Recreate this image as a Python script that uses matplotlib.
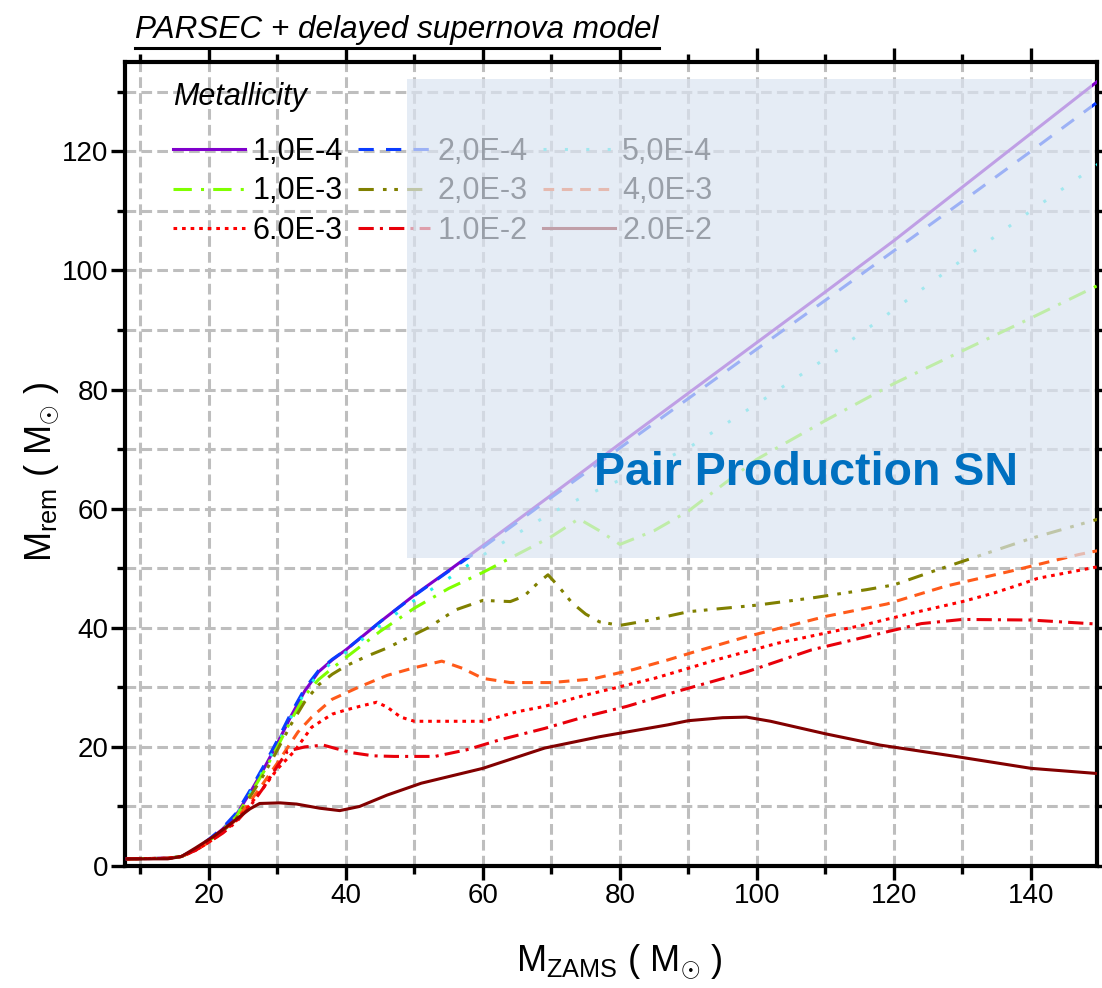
import matplotlib
matplotlib.use("Agg")
import matplotlib.pyplot as plt
from matplotlib.patches import Rectangle
from matplotlib.lines import Line2D
from matplotlib.ticker import MultipleLocator

plt.rcParams['font.family'] = ['Liberation Sans', 'DejaVu Sans']
plt.rcParams['mathtext.fontset'] = 'custom'
plt.rcParams['mathtext.rm'] = 'Liberation Sans'
plt.rcParams['mathtext.it'] = 'Liberation Sans:italic'

# ---- data (M_ZAMS -> M_rem) for each metallicity ----
labels = ["1,0E-4", "2,0E-4", "5,0E-4",
          "1,0E-3", "2,0E-3", "4,0E-3",
          "6.0E-3", "1.0E-2", "2.0E-2"]

x_z1 = [8, 14, 16, 18, 20, 22, 24, 26, 28, 30, 32, 34, 36, 38, 40, 45, 50, 55, 60, 70, 80, 90, 100, 110, 120, 130, 140, 150]
y_z1 = [1.2, 1.3, 1.6, 2.7, 4.3, 6.2, 8.6, 12.3, 16.3, 20.6, 25.2, 29.4, 32.6, 34.6, 36.3, 41.0, 45.5, 49.6, 53.8, 62.3, 70.9, 79.4, 87.9, 96.4, 105.0, 114.0, 123.0, 132.0]

x_z2 = [8, 14, 16, 18, 20, 22, 24, 26, 28, 30, 32, 34, 36, 38, 40, 45, 50, 55, 60, 70, 80, 90, 100, 110, 120, 130, 140, 150]
y_z2 = [1.2, 1.3, 1.6, 2.8, 4.5, 6.4, 8.9, 12.7, 16.8, 21.1, 25.7, 29.8, 32.8, 34.7, 36.3, 41.0, 45.4, 49.5, 53.5, 61.9, 70.2, 78.5, 86.8, 95.0, 103.3, 111.6, 120.0, 128.5]

x_z3 = [8, 14, 16, 18, 20, 22, 24, 26, 28, 30, 32, 34, 36, 38, 40, 45, 50, 55, 60, 65, 70, 75, 80, 90, 100, 110, 120, 130, 140, 150]
y_z3 = [1.2, 1.3, 1.6, 2.7, 4.3, 6.1, 8.5, 12.2, 16.2, 20.5, 25.0, 29.2, 32.3, 34.2, 35.9, 40.4, 44.6, 48.3, 52.2, 55.8, 59.3, 62.2, 64.8, 70.2, 77.6, 85.2, 93.4, 101.8, 110.0, 118.0]

x_z4 = [8, 14, 16, 18, 20, 22, 24, 26, 28, 30, 32, 34, 36, 38, 40, 45, 50, 55, 60, 65, 70, 74, 77, 80, 85, 90, 95, 100, 110, 120, 130, 140, 150]
y_z4 = [1.2, 1.3, 1.6, 2.7, 4.2, 6.0, 8.3, 12.0, 15.8, 20.0, 24.5, 28.6, 31.3, 33.2, 35.0, 39.4, 43.3, 46.6, 49.3, 52.3, 55.3, 58.3, 56.3, 54.0, 56.3, 59.6, 64.0, 68.3, 74.8, 81.0, 86.5, 92.0, 97.6]

x_z5 = [8, 14, 16, 18, 20, 22, 24, 26, 28, 30, 32, 34, 36, 38, 40, 43, 46, 49, 52, 56, 60, 64, 66, 68, 69.5, 71, 73, 75, 77, 80, 84, 90, 100, 108, 116, 120, 126, 133, 140, 150]
y_z5 = [1.2, 1.3, 1.6, 2.6, 4.1, 5.8, 8.0, 11.6, 15.3, 19.5, 23.8, 27.6, 30.4, 32.2, 33.6, 35.2, 36.6, 38.3, 40.0, 43.0, 44.6, 44.4, 45.3, 47.5, 48.9, 47.0, 44.2, 42.3, 41.0, 40.4, 41.2, 42.7, 43.8, 45.0, 46.4, 47.2, 49.6, 52.3, 55.0, 58.3]

x_z6 = [8, 14, 16, 18, 20, 22, 24, 26, 28, 30, 33, 35, 38, 42, 46, 50, 54, 57, 60, 64, 70, 76, 82, 87, 91, 98.5, 110, 119, 127.6, 137.4, 147, 150]
y_z6 = [1.2, 1.3, 1.6, 2.6, 4.0, 5.7, 7.8, 10.8, 14.0, 17.3, 22.5, 25.0, 28.0, 30.1, 32.0, 33.3, 34.4, 33.2, 31.5, 30.8, 30.8, 31.4, 33.0, 34.6, 36.0, 38.5, 41.9, 44.0, 47.0, 49.6, 52.3, 53.0]

x_z7 = [8, 14, 16, 18, 20, 22, 24, 26, 28, 30, 32.5, 35, 38, 40, 42, 44.5, 46, 48, 50, 55, 60, 62.5, 65, 69, 75, 80, 85, 90, 94, 103, 115.7, 122.8, 130, 134.5, 138, 141, 150]
y_z7 = [1.2, 1.3, 1.6, 2.6, 4.0, 5.6, 7.6, 10.3, 13.2, 16.3, 19.3, 23.3, 25.5, 26.2, 26.8, 27.5, 26.7, 25.0, 24.3, 24.3, 24.3, 25.1, 25.9, 26.8, 28.7, 30.1, 31.5, 33.2, 34.6, 37.4, 40.5, 42.5, 44.4, 45.8, 47.1, 48.3, 50.3]

x_z8 = [8, 14, 16, 18, 20, 22, 24, 26, 28, 30, 31.5, 34, 36.7, 38.6, 41, 44, 47, 53, 57.6, 62.5, 69, 75, 81, 88, 98.5, 108, 116, 124, 130, 140, 150]
y_z8 = [1.2, 1.3, 1.6, 2.6, 4.0, 5.5, 7.4, 10.0, 13.2, 16.8, 19.3, 20.0, 20.3, 19.7, 19.0, 18.5, 18.4, 18.4, 19.5, 21.2, 23.1, 25.1, 26.8, 29.2, 32.6, 36.3, 38.5, 40.7, 41.4, 41.3, 40.6]

x_z9 = [8, 14, 16, 18, 20.6, 22.5, 24.5, 26, 27.4, 30.4, 32.8, 36.2, 39.1, 42, 46, 51, 60, 69, 77, 87, 90, 95, 98.5, 102, 110, 118, 129, 140, 150]
y_z9 = [1.2, 1.2, 1.6, 3.0, 4.9, 6.5, 8.3, 9.6, 10.5, 10.6, 10.4, 9.7, 9.3, 10.0, 11.9, 13.9, 16.4, 19.8, 21.7, 23.7, 24.4, 24.9, 25.0, 24.3, 22.2, 20.3, 18.4, 16.4, 15.5]

xs = [x_z1, x_z2, x_z3, x_z4, x_z5, x_z6, x_z7, x_z8, x_z9]
ys = [y_z1, y_z2, y_z3, y_z4, y_z5, y_z6, y_z7, y_z8, y_z9]

colors = ['#8000cc', '#0a3cff', '#20f0e8', '#80ff00', '#808000',
          '#ff5a1a', '#ff0000', '#e8000a', '#820000']
dashes = [None, (5, 4), (1, 6), (6, 3, 1, 3), (5, 3, 1.2, 2.5, 1.2, 3),
          (3.5, 2.5), (1.2, 1.6), (5, 2, 1, 2), None]

fig = plt.figure(figsize=(11.02, 9.88), dpi=100)
ax = fig.add_axes([125 / 1102, 122 / 988, 972 / 1102, 804 / 988])

lines = []
for x, y, c, d, lab in zip(xs, ys, colors, dashes, labels):
    ln, = ax.plot(x, y, color=c, lw=2.2, label=lab, zorder=3)
    if d is not None:
        ln.set_dashes(d)
    lines.append(ln)

ax.set_xlim(7.75, 149.65)
ax.set_ylim(0, 135)

ax.xaxis.set_major_locator(MultipleLocator(20))
ax.xaxis.set_minor_locator(MultipleLocator(10))
ax.yaxis.set_major_locator(MultipleLocator(20))
ax.yaxis.set_minor_locator(MultipleLocator(10))

ax.grid(True, which='both', color='#bebebe', lw=2.2, ls=(0, (3.5, 1.7)), zorder=1)
ax.set_axisbelow(True)

for s in ax.spines.values():
    s.set_linewidth(3)
ax.tick_params(which='both', direction='out', top=True, right=True, width=2.4,
               labelsize=20, pad=2)
ax.tick_params(which='major', length=10)
ax.tick_params(which='minor', length=6)

ax.set_xlabel(r'$\mathrm{M_{ZAMS}}$ ( $\mathrm{M_{\odot}}$ )', fontsize=26)
ax.set_ylabel(r'$\mathrm{M_{rem}}$ ( $\mathrm{M_{\odot}}$ )', fontsize=26)
ax.xaxis.set_label_coords(0.509, -0.095)
ax.yaxis.set_label_coords(-0.066, 0.49)

# legend reads row by row (matplotlib fills column by column)
order = [0, 3, 6, 1, 4, 7, 2, 5, 8]
leg = ax.legend([lines[i] for i in order], [labels[i] for i in order],
                ncol=3, loc='upper left', bbox_to_anchor=(0.0494, 0.907),
                frameon=False, fontsize=22,
                handlelength=2.35, handletextpad=0.25,
                columnspacing=0.5, labelspacing=0.31, borderpad=0,
                borderaxespad=0)
leg.set_zorder(5)
ax.text(0.0494, 0.9565, 'Metallicity', transform=ax.transAxes, fontsize=22,
        style='italic', ha='left', va='center', zorder=5)

# pale overlay for the pair-production region
ax.add_patch(Rectangle((48.9, 51.7), 100.0, 80.4, facecolor='#dbe4f1',
                       edgecolor='none', alpha=0.7, zorder=6))
ax.text(107.2, 66, 'Pair Production SN', color='#0070c0', fontsize=33.5,
        fontweight='bold', ha='center', va='center', zorder=7)

# underlined italic title
t = fig.text(135 / 1102, 1 - 38 / 988, 'PARSEC + delayed supernova model',
             fontsize=22.7, style='italic', ha='left', va='baseline')
fig.canvas.draw()
bb = t.get_window_extent().transformed(fig.transFigure.inverted())
fig.add_artist(Line2D([bb.x0, bb.x1], [1 - 48 / 988] * 2, color='black',
                      lw=2.2, transform=fig.transFigure))

fig.savefig('out.png', dpi=100)
